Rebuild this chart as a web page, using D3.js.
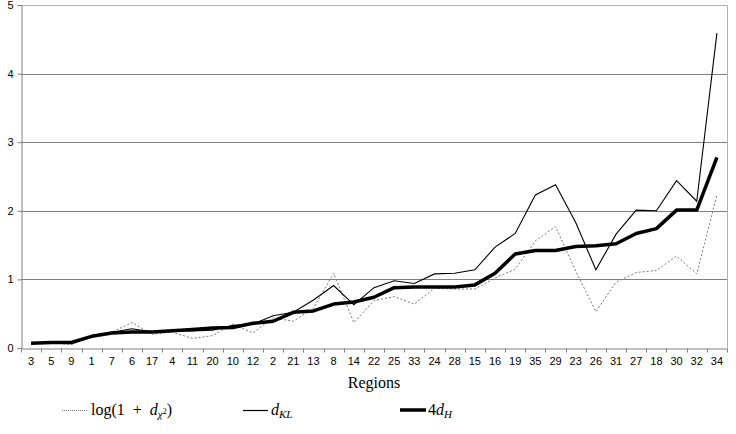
<html>
<head>
  <script src="https://d3js.org/d3.v7.min.js"></script>
  <style>
    body{ margin:0; background:#fff; }
    .tick text{ font-family:"Liberation Sans", Arial, sans-serif; font-size:11px; fill:#000; }
    .lbl{ font-family:"Liberation Serif", "Times New Roman", serif; font-size:16px; fill:#000; }
  </style>
</head>
<body>
<script>
var regions = ["3","5","9","1","7","6","17","4","11","20","10","12","2","21","13","8","14","22","25","33","24","28","15","16","19","35","29","23","26","31","27","18","30","32","34"];

var logChi = [0.07,0.08,0.05,0.17,0.23,0.37,0.20,0.23,0.14,0.18,0.35,0.22,0.44,0.39,0.58,1.09,0.37,0.69,0.75,0.64,0.87,0.86,0.86,1.02,1.15,1.56,1.77,1.12,0.53,0.96,1.10,1.13,1.34,1.08,2.23];
var dKL = [0.07,0.08,0.08,0.17,0.23,0.28,0.235,0.25,0.25,0.26,0.33,0.35,0.47,0.52,0.70,0.91,0.63,0.88,0.98,0.94,1.08,1.09,1.14,1.47,1.67,2.23,2.38,1.83,1.14,1.66,2.01,2.00,2.44,2.14,4.59];
var fourDH = [0.07,0.08,0.08,0.17,0.22,0.235,0.235,0.25,0.27,0.29,0.30,0.36,0.39,0.52,0.54,0.64,0.67,0.74,0.88,0.89,0.89,0.89,0.92,1.09,1.37,1.42,1.42,1.48,1.49,1.52,1.67,1.74,2.01,2.01,2.78];

var yTicks = [0,1,2,3,4,5];

var width = 736, height = 434;
var plotL = 21, plotR = 727, plotT = 5, plotB = 348;

var svg = d3.select("body").append("svg")
  .attr("width", width)
  .attr("height", height);

var x = d3.scaleBand().domain(regions).range([plotL, plotR]);
var y = d3.scaleLinear().domain([0, 5]).range([plotB, plotT]);

// gridlines
svg.append("g").selectAll("line")
  .data([1,2,3,4])
  .enter().append("line")
  .attr("x1", plotL).attr("x2", plotR)
  .attr("y1", d => Math.round(y(d)) + 0.5).attr("y2", d => Math.round(y(d)) + 0.5)
  .attr("stroke", "#7f7f7f");

// plot border (top/right)
svg.append("path")
  .attr("d", "M" + plotL + "," + (plotT + 0.5) + "H" + (plotR + 0.5) + "V" + plotB)
  .attr("fill", "none")
  .attr("stroke", "#a9b4b4");

// x axis
var xAxis = svg.append("g")
  .attr("transform", "translate(0," + (plotB + 0.5) + ")")
  .call(d3.axisBottom(x).tickSize(0).tickPadding(9));
xAxis.select(".domain").attr("stroke", "#808080");
xAxis.append("g").selectAll("line")
  .data(d3.range(regions.length + 1))
  .enter().append("line")
  .attr("x1", i => Math.round(plotL + i * x.step()) + 0.5)
  .attr("x2", i => Math.round(plotL + i * x.step()) + 0.5)
  .attr("y1", 0).attr("y2", 4)
  .attr("stroke", "#808080");

// y axis
var yAxis = svg.append("g")
  .attr("transform", "translate(" + (plotL + 0.5) + ",0)")
  .call(d3.axisLeft(y).tickValues(yTicks).tickFormat(d3.format("d")).tickSize(4).tickPadding(4));
yAxis.select(".domain").attr("stroke", "#808080");
yAxis.selectAll(".tick line").attr("stroke", "#808080");

function lineOf(vals){
  return d3.line()
    .x((d, i) => x(regions[i]) + x.bandwidth() / 2)
    .y(d => y(d))(vals);
}

svg.append("path").attr("d", lineOf(logChi))
  .attr("fill", "none").attr("stroke", "#777").attr("stroke-width", 1)
  .attr("stroke-dasharray", "2,2");
svg.append("path").attr("d", lineOf(dKL))
  .attr("fill", "none").attr("stroke", "#000").attr("stroke-width", 1.1);
svg.append("path").attr("d", lineOf(fourDH))
  .attr("fill", "none").attr("stroke", "#000").attr("stroke-width", 3.5)
  .attr("stroke-linejoin", "round");

// axis title
svg.append("text").attr("class", "lbl")
  .attr("x", (plotL + plotR) / 2).attr("y", 388)
  .attr("text-anchor", "middle")
  .text("Regions");

// legend
var lg = svg.append("g");
lg.append("line").attr("x1", 62).attr("x2", 88).attr("y1", 410.5).attr("y2", 410.5)
  .attr("stroke", "#777").attr("stroke-dasharray", "1,1");
var t1 = lg.append("text").attr("class", "lbl").attr("x", 91).attr("y", 415)
  .attr("xml:space", "preserve");
t1.append("tspan").text("log(1\u2002+\u2002");
t1.append("tspan").attr("font-style", "italic").text("d");
t1.append("tspan").attr("font-style", "italic").attr("font-size", "11px").attr("dy", 3).text("χ");
t1.append("tspan").attr("font-size", "8px").attr("dy", -4).text("2");
t1.append("tspan").attr("dy", 1).text(")");

lg.append("line").attr("x1", 243).attr("x2", 268).attr("y1", 410.5).attr("y2", 410.5)
  .attr("stroke", "#000").attr("stroke-width", 1.2);
var t2 = lg.append("text").attr("class", "lbl").attr("x", 271).attr("y", 415);
t2.append("tspan").attr("font-style", "italic").text("d");
t2.append("tspan").attr("font-style", "italic").attr("font-size", "11px").attr("dy", 3).text("KL");

lg.append("line").attr("x1", 400).attr("x2", 426).attr("y1", 410).attr("y2", 410)
  .attr("stroke", "#000").attr("stroke-width", 3.5);
var t3 = lg.append("text").attr("class", "lbl").attr("x", 428).attr("y", 415);
t3.append("tspan").text("4");
t3.append("tspan").attr("font-style", "italic").text("d");
t3.append("tspan").attr("font-style", "italic").attr("font-size", "11px").attr("dy", 3).text("H");
</script>
</body>
</html>
